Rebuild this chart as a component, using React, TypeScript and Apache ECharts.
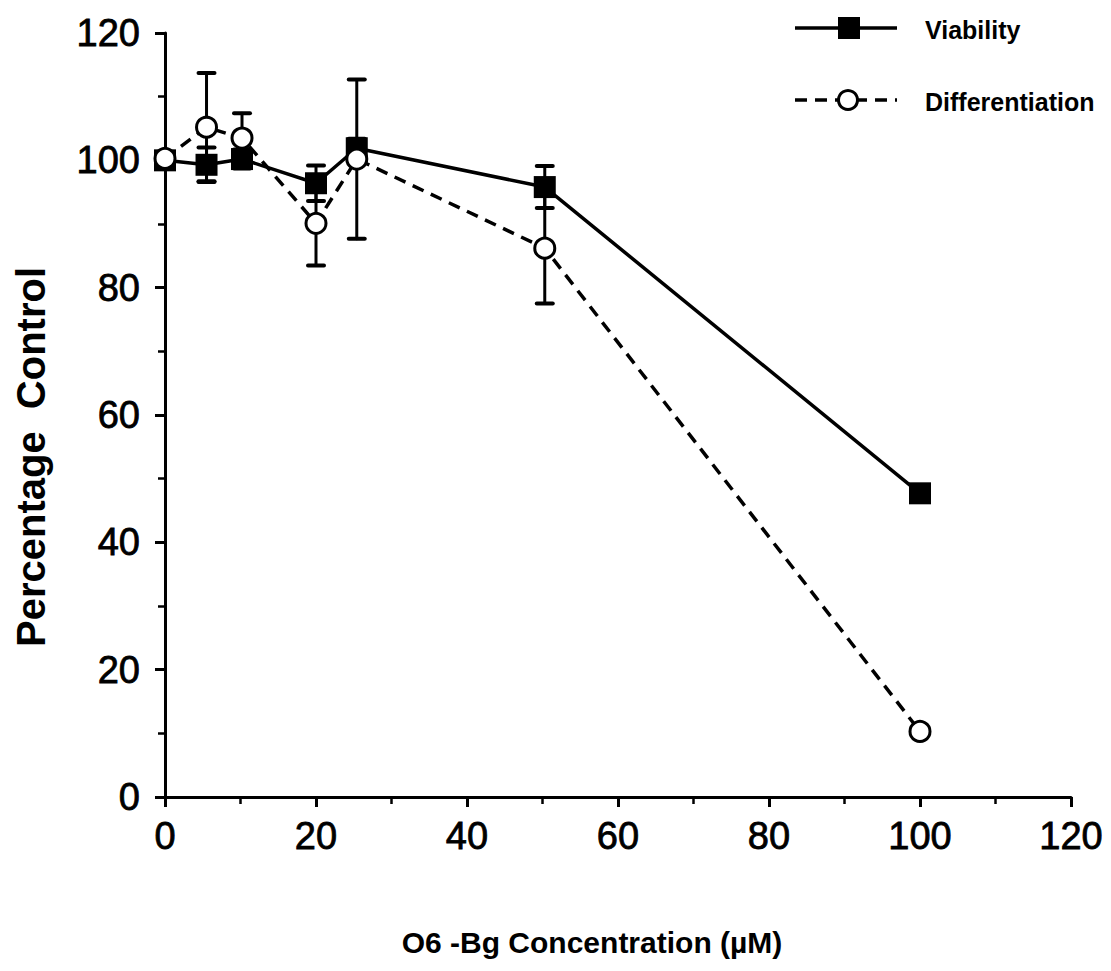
import React, { useEffect, useRef } from "react";
import * as echarts from "echarts";

const concentrations = [0, 5.5, 10.2, 20, 25.4, 50.3, 100];
const viability = [100, 99.3, 100.2, 96.4, 101.9, 95.8, 47.7];
const viabilityErr = [0, 2.7, 1.5, 2.8, 1.5, 3.3, 0];
const differentiation = [100.3, 105.2, 103.5, 90.1, 100.2, 86.2, 10.3];
const differentiationErr = [0, 8.5, 3.9, 6.6, 12.5, 8.7, 0];
const xTicks = [0, 20, 40, 60, 80, 100, 120];
const yTicks = [0, 20, 40, 60, 80, 100, 120];
const seriesNames = ["Viability", "Differentiation"];
const xTitle = "O6 -Bg Concentration (\u00b5M)";
const yTitle = "Percentage  Control";

const FONT = "'Liberation Sans', Arial, Helvetica, sans-serif";

export default function App() {
  const ref = useRef<HTMLDivElement>(null);
  useEffect(() => {
    if (!ref.current) return;
    const chart = echarts.init(ref.current, null, { renderer: "svg" });

    const errData = (vals: number[], errs: number[]) =>
      concentrations.map((x, i) => [x, vals[i], errs[i]]);

    const errSeries = (vals: number[], errs: number[]) => ({
      type: "custom",
      z: 1,
      data: errData(vals, errs),
      encode: { x: 0, y: 1 },
      renderItem: (params: any, api: any) => {
        const x = api.value(0);
        const y = api.value(1);
        const e = api.value(2);
        if (!e) return null;
        const top = api.coord([x, y + e]);
        const bot = api.coord([x, y - e]);
        const w = 8;
        const style = { stroke: "#000", lineWidth: 3, lineCap: "round" };
        return {
          type: "group",
          children: [
            { type: "line", shape: { x1: top[0], y1: top[1], x2: bot[0], y2: bot[1] }, style },
            { type: "line", shape: { x1: top[0] - w, y1: top[1], x2: top[0] + w, y2: top[1] }, style: { ...style, lineWidth: 4 } },
            { type: "line", shape: { x1: bot[0] - w, y1: bot[1], x2: bot[0] + w, y2: bot[1] }, style: { ...style, lineWidth: 4 } },
          ],
        };
      },
    });

    const labelStyle = { fontSize: 38, color: "#000", fontFamily: FONT, textBorderColor: "#000", textBorderWidth: 0.8 };

    chart.setOption({
      animation: false,
      backgroundColor: "#fff",
      textStyle: { fontFamily: FONT },
      grid: { left: 165, right: 40, top: 33, bottom: 174, containLabel: false },
      xAxis: {
        type: "value",
        min: xTicks[0],
        max: xTicks[xTicks.length - 1],
        interval: 20,
        axisLine: { lineStyle: { color: "#000", width: 3 } },
        axisTick: { show: true, length: 10, lineStyle: { color: "#000", width: 3 } },
        minorTick: { show: true, splitNumber: 2, length: 7, lineStyle: { color: "#000", width: 2.5 } },
        splitLine: { show: false },
        axisLabel: { ...labelStyle, margin: 20 },
      },
      yAxis: {
        type: "value",
        min: yTicks[0],
        max: yTicks[yTicks.length - 1],
        interval: 20,
        axisLine: { lineStyle: { color: "#000", width: 3 } },
        axisTick: { show: true, length: 10, lineStyle: { color: "#000", width: 3 } },
        minorTick: { show: true, splitNumber: 2, length: 7, lineStyle: { color: "#000", width: 2.5 } },
        splitLine: { show: false },
        axisLabel: { ...labelStyle, margin: 25 },
      },
      graphic: [
        { type: "text", x: 592, y: 942, style: { text: xTitle, fontSize: 30, fontWeight: "bold", fill: "#000", align: "center", verticalAlign: "middle", fontFamily: FONT } },
        { type: "text", x: 31, y: 457, rotation: Math.PI / 2, style: { text: yTitle, fontSize: 40, fontWeight: "bold", fill: "#000", align: "center", verticalAlign: "middle", fontFamily: FONT } },
        { type: "line", shape: { x1: 795, y1: 28, x2: 897, y2: 28 }, style: { stroke: "#000", lineWidth: 3.5 } },
        { type: "rect", shape: { x: 838, y: 17, width: 22, height: 22 }, style: { fill: "#000" } },
        { type: "text", x: 925, y: 30, style: { text: seriesNames[0], fontSize: 25, fontWeight: "bold", fill: "#000", verticalAlign: "middle", fontFamily: FONT } },
        { type: "line", shape: { x1: 795, y1: 100, x2: 897, y2: 100 }, style: { stroke: "#000", lineWidth: 3.5, lineDash: [12, 8] } },
        { type: "circle", shape: { cx: 848, cy: 100, r: 9.5 }, style: { fill: "#fff", stroke: "#000", lineWidth: 3 } },
        { type: "text", x: 925, y: 102, style: { text: seriesNames[1], fontSize: 25, fontWeight: "bold", fill: "#000", verticalAlign: "middle", fontFamily: FONT } },
      ],
      series: [
        errSeries(viability, viabilityErr),
        errSeries(differentiation, differentiationErr),
        {
          name: seriesNames[0],
          type: "line",
          z: 3,
          data: concentrations.map((x, i) => [x, viability[i]]),
          symbol: "rect",
          symbolSize: 22,
          lineStyle: { color: "#000", width: 3.5 },
          itemStyle: { color: "#000", borderColor: "#000", borderWidth: 0 },
        },
        {
          name: seriesNames[1],
          type: "line",
          z: 4,
          data: concentrations.map((x, i) => [x, differentiation[i]]),
          symbol: "circle",
          symbolSize: 20,
          lineStyle: { color: "#000", width: 3.5, type: [12, 8] },
          itemStyle: { color: "#fff", borderColor: "#000", borderWidth: 3 },
        },
      ],
    });
    return () => chart.dispose();
  }, []);
  return <div ref={ref} style={{ position: "fixed", left: 0, top: 0, width: 1111, height: 971, background: "#fff" }} />;
}
